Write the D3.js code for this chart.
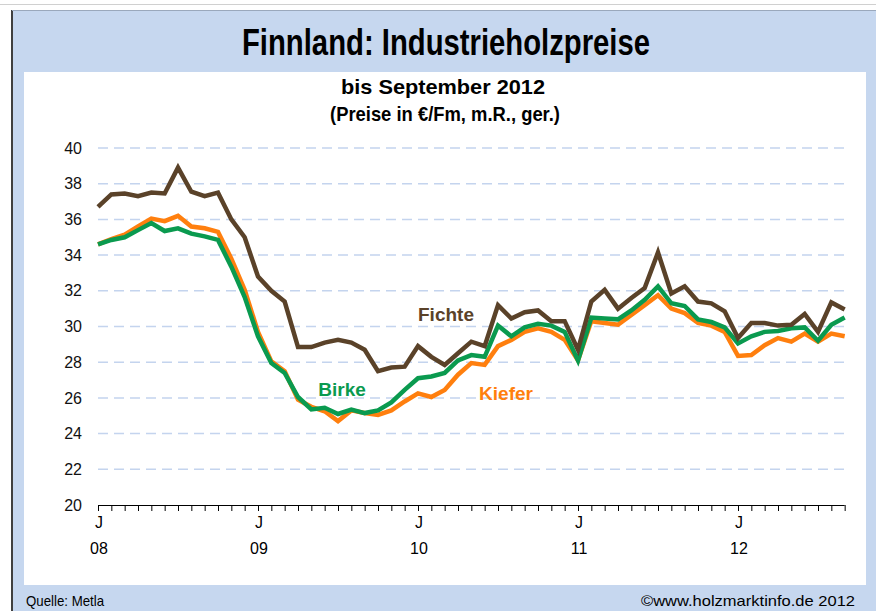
<!DOCTYPE html>
<html>
<head>
<meta charset="utf-8">
<script src="https://cdn.jsdelivr.net/npm/d3@7"></script>
<style>
  body { margin: 0; background: #fff; }
  svg { display: block; }
  text { font-family: Arial, "Liberation Sans", sans-serif; }
</style>
</head>
<body>
<div id="chart"></div>
<script>
// monthly prices Jan 2008 .. Sep 2012
var months = d3.range(57);
var yearLabels = ['08', '09', '10', '11', '12'];
var yTicks = [20, 22, 24, 26, 28, 30, 32, 34, 36, 38, 40];

var fichte = [36.7, 37.4, 37.45, 37.3, 37.5, 37.45, 38.9, 37.55, 37.3, 37.5, 36.0, 35.0,
  32.8, 32.0, 31.4, 28.85, 28.85, 29.1, 29.25, 29.1, 28.7, 27.5, 27.7, 27.75,
  28.9, 28.3, 27.85, 28.5, 29.15, 28.9, 31.2, 30.45, 30.8, 30.9, 30.3, 30.3,
  28.7, 31.4, 32.05, 31.0, 31.6, 32.15, 34.15, 31.85, 32.25, 31.4, 31.3, 30.85,
  29.35, 30.2, 30.2, 30.05, 30.1, 30.7, 29.7, 31.35, 30.95];
var kiefer = [34.6, 34.9, 35.15, 35.6, 36.05, 35.9, 36.2, 35.6, 35.5, 35.3, 33.8, 32.05,
  29.7, 28.05, 27.5, 25.9, 25.5, 25.25, 24.7, 25.3, 25.15, 25.05, 25.3, 25.8,
  26.25, 26.05, 26.45, 27.3, 27.95, 27.85, 28.9, 29.25, 29.7, 29.9, 29.7, 29.25,
  28.1, 30.3, 30.2, 30.1, 30.65, 31.2, 31.75, 31.0, 30.75, 30.2, 30.05, 29.7,
  28.35, 28.4, 28.95, 29.35, 29.15, 29.6, 29.15, 29.6, 29.45];
var birke = [34.6, 34.85, 35.0, 35.4, 35.8, 35.35, 35.5, 35.2, 35.05, 34.85, 33.35, 31.65,
  29.45, 27.95, 27.4, 26.05, 25.35, 25.45, 25.1, 25.35, 25.15, 25.3, 25.75, 26.45,
  27.1, 27.2, 27.4, 28.1, 28.4, 28.3, 30.05, 29.45, 29.95, 30.15, 30.05, 29.7,
  28.1, 30.5, 30.45, 30.4, 30.9, 31.5, 32.25, 31.3, 31.15, 30.4, 30.25, 29.95,
  29.05, 29.45, 29.7, 29.75, 29.9, 29.95, 29.2, 30.1, 30.5];

var blue = '#c6d7ef';
var width = 876, height = 611;

var svg = d3.select('#chart').append('svg')
  .attr('width', width)
  .attr('height', height);

// narrow text: squeeze to the measured width
function narrow(sel, len) {
  sel.attr('textLength', len).attr('lengthAdjust', 'spacingAndGlyphs');
}

// frame
svg.append('line')
  .attr('x1', 0).attr('x2', width).attr('y1', 4.5).attr('y2', 4.5)
  .attr('stroke', '#d0d0d0');
svg.append('rect')
  .attr('x', 12).attr('y', 10)
  .attr('width', width - 12).attr('height', height - 10)
  .attr('fill', blue);
svg.append('rect')
  .attr('x', 24).attr('y', 72)
  .attr('width', 842).attr('height', 513)
  .attr('fill', '#fff');
svg.append('line')
  .attr('x1', 12).attr('x2', 12).attr('y1', 10).attr('y2', height)
  .attr('stroke', '#404040').attr('stroke-width', 2);
svg.append('line')
  .attr('x1', 12).attr('x2', width).attr('y1', 10.5).attr('y2', 10.5)
  .attr('stroke', '#9aa8bc');

// titles
svg.append('text')
  .attr('x', 446).attr('y', 55)
  .attr('text-anchor', 'middle')
  .style('font-weight', 'bold')
  .style('font-size', '37px')
  .text('Finnland: Industrieholzpreise')
  .call(narrow, 408);
svg.append('text')
  .attr('x', 443).attr('y', 94)
  .attr('text-anchor', 'middle')
  .style('font-weight', 'bold').style('font-size', '21px')
  .text('bis September 2012')
  .call(narrow, 204);
svg.append('text')
  .attr('x', 445).attr('y', 121)
  .attr('text-anchor', 'middle')
  .style('font-weight', 'bold').style('font-size', '21px')
  .text('(Preise in €/Fm, m.R., ger.)')
  .call(narrow, 230);

// scales
var x = d3.scaleLinear().domain([0, 56]).range([98, 98 + 56 * 160 / 12]);
var y = d3.scaleLinear().domain([20, 40]).range([505, 148]);

// grid
svg.append('g')
  .selectAll('line')
  .data(yTicks.filter(function(d) { return d > 20; }))
  .join('line')
  .attr('x1', 98).attr('x2', 850)
  .attr('y1', function(d) { return y(d); })
  .attr('y2', function(d) { return y(d); })
  .attr('stroke', '#c4d4ee')
  .attr('stroke-width', 1.5)
  .attr('stroke-dasharray', '10,6');

// y axis labels
var yAxis = svg.append('g')
  .attr('transform', 'translate(98,0)')
  .call(d3.axisLeft(y).tickValues(yTicks).tickSize(0).tickPadding(16).tickFormat(d3.format('d')));
yAxis.select('.domain').remove();
yAxis.selectAll('text')
  .style('font-size', '16px')
  .attr('fill', '#111');

// x axis
var xAxis = svg.append('g')
  .attr('transform', 'translate(0,505)')
  .call(d3.axisBottom(x).tickValues(months).tickSize(6).tickFormat(''));
xAxis.select('.domain').attr('stroke', '#000').attr('d', 'M' + x(0) + ',0.5H' + x(56));
xAxis.selectAll('.tick line').attr('stroke', '#000');

var janIdx = months.filter(function(d) { return d % 12 === 0; });
svg.append('g').selectAll('text')
  .data(janIdx)
  .join('text')
  .attr('x', function(d) { return x(d) + 1; })
  .attr('y', 528)
  .attr('text-anchor', 'middle')
  .style('font-size', '16px')
  .text('J');
svg.append('g').selectAll('text')
  .data(janIdx)
  .join('text')
  .attr('x', function(d) { return x(d) + 1; })
  .attr('y', 554)
  .attr('text-anchor', 'middle')
  .style('font-size', '16px')
  .text(function(d, i) { return yearLabels[i]; });

// series
var line = d3.line()
  .x(function(d, i) { return x(i); })
  .y(function(d) { return y(d); });

var series = [
  { name: 'Kiefer', values: kiefer, color: '#ff7f0e', lx: 506, ly: 400 },
  { name: 'Birke', values: birke, color: '#0a9a4f', lx: 342, ly: 396 },
  { name: 'Fichte', values: fichte, color: '#5a4229', lx: 446, ly: 321 }
];

series.forEach(function(s) {
  svg.append('path')
    .datum(s.values)
    .attr('d', line)
    .attr('fill', 'none')
    .attr('stroke', s.color)
    .attr('stroke-width', 4.5)
    .attr('stroke-linejoin', 'miter');
  svg.append('text')
    .attr('x', s.lx).attr('y', s.ly)
    .attr('text-anchor', 'middle')
    .style('font-weight', 'bold').style('font-size', '19px')
    .attr('fill', s.color)
    .text(s.name);
});

// footer
svg.append('text')
  .attr('x', 26).attr('y', 606)
  .style('font-size', '15px')
  .text('Quelle: Metla')
  .call(narrow, 78);
svg.append('text')
  .attr('x', 855).attr('y', 606)
  .attr('text-anchor', 'end')
  .style('font-size', '15px')
  .text('©www.holzmarktinfo.de 2012')
  .call(narrow, 214);
</script>
</body>
</html>
